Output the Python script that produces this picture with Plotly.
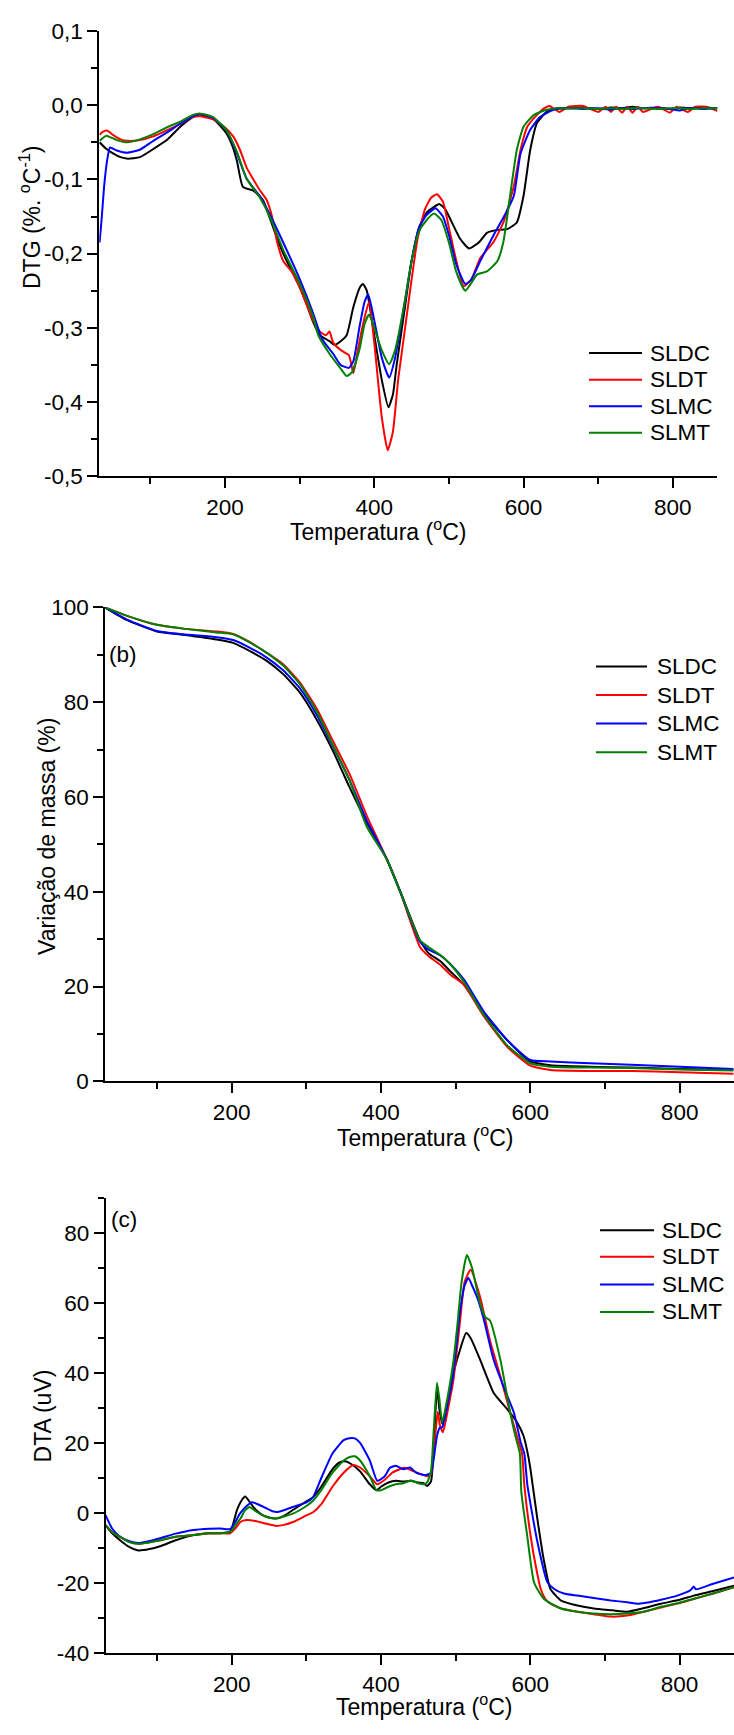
import plotly.graph_objects as go

W, H = 734, 1735
FONT = "Liberation Sans, Arial, sans-serif"

names = ["SLDC", "SLDT", "SLMC", "SLMT"]
colors = ["#000000", "#ff0000", "#0000ff", "#008000"]

# ---------------- Panel (a) DTG ----------------
plateau_T = [660, 680, 700, 717, 732, 746, 760, 780, 796, 810, 820, 840, 860]
dtg_T_sldc = [32, 40, 50, 60, 70, 86, 104, 122, 140, 157, 166, 184, 202, 210, 216, 224, 238, 251, 260, 270,
              278, 290, 300, 310, 318, 327, 340, 347, 355, 363, 372, 381, 385, 390, 400, 410, 419, 425, 430,
              440, 450, 460, 470, 480, 487, 495, 505, 515, 527, 540, 551, 565, 578, 591, 600, 609, 618, 631,
              645] + plateau_T
dtg_sldc = [-0.050, -0.058, -0.065, -0.070, -0.072, -0.070, -0.059, -0.047, -0.029, -0.016, -0.013, -0.018,
            -0.038, -0.055, -0.075, -0.110, -0.115, -0.128, -0.152, -0.180, -0.200, -0.225, -0.245, -0.270,
            -0.292, -0.310, -0.318, -0.323, -0.318, -0.310, -0.272, -0.245, -0.241, -0.250, -0.310, -0.370,
            -0.407, -0.390, -0.350, -0.280, -0.210, -0.165, -0.145, -0.137, -0.133, -0.140, -0.160, -0.180,
            -0.193, -0.185, -0.172, -0.168, -0.167, -0.158, -0.122, -0.060, -0.024, -0.009, -0.004,
            -0.004, -0.003, -0.005, -0.003, -0.004, -0.002, -0.004, -0.003, -0.005, -0.003, -0.004, -0.003, -0.004]

dtg_T_sldt = [32, 36, 42, 50, 60, 69, 86, 104, 122, 140, 157, 166, 184, 200, 211, 220, 229, 238, 247, 256,
              263, 270, 278, 290, 300, 310, 318, 327, 335, 340, 345, 355, 366, 372, 378, 385, 393, 400, 410,
              418, 425, 432, 440, 448, 458, 468, 476, 484, 492, 500, 510, 520, 530, 542, 551, 560, 573, 587,
              596, 605, 618, 628, 635, 648, 660, 680, 700, 710, 717, 724, 732, 739, 746, 753, 760, 780, 796,
              805, 820, 830, 845, 860]
dtg_sldt = [-0.040, -0.036, -0.034, -0.040, -0.046, -0.048, -0.047, -0.042, -0.034, -0.025, -0.016, -0.015,
            -0.019, -0.030, -0.042, -0.060, -0.084, -0.100, -0.115, -0.128, -0.150, -0.185, -0.210, -0.225,
            -0.245, -0.270, -0.290, -0.305, -0.310, -0.305, -0.320, -0.330, -0.337, -0.361, -0.330, -0.295,
            -0.265, -0.320, -0.420, -0.465, -0.440, -0.370, -0.310, -0.250, -0.180, -0.140, -0.125, -0.120,
            -0.130, -0.165, -0.210, -0.244, -0.235, -0.206, -0.195, -0.184, -0.158, -0.109, -0.060, -0.029,
            -0.013, -0.004, -0.001, -0.009, -0.002, -0.001, -0.009, -0.002, -0.009, -0.002, -0.010, -0.002,
            -0.010, -0.002, -0.009, -0.002, -0.010, -0.002, -0.009, -0.002, -0.002, -0.008]

dtg_T_slmc = [32, 35, 38, 42, 46, 55, 69, 86, 104, 122, 140, 157, 166, 184, 202, 216, 229, 247, 260, 278,
              300, 318, 330, 345, 355, 366, 372, 380, 387, 392, 400, 410, 420, 428, 440, 450, 460, 470, 482,
              492, 500, 510, 522, 530, 542, 560, 576, 587, 596, 609, 622, 640] + plateau_T
dtg_slmc = [-0.185, -0.150, -0.110, -0.075, -0.057, -0.061, -0.064, -0.060, -0.048, -0.037, -0.025, -0.015,
            -0.012, -0.017, -0.034, -0.065, -0.099, -0.123, -0.147, -0.185, -0.234, -0.280, -0.315, -0.335,
            -0.350, -0.354, -0.345, -0.300, -0.265, -0.255, -0.290, -0.340, -0.367, -0.340, -0.270, -0.210,
            -0.165, -0.148, -0.139, -0.150, -0.175, -0.215, -0.241, -0.235, -0.210, -0.175, -0.146, -0.122,
            -0.065, -0.033, -0.016, -0.006,
            -0.004, -0.005, -0.004, -0.006, -0.004, -0.005, -0.004, -0.004, -0.005, -0.007, -0.004, -0.005, -0.004]

dtg_T_slmt = [32, 41, 55, 69, 86, 104, 122, 140, 157, 166, 184, 202, 216, 229, 247, 260, 278, 300, 318, 325,
              340, 355, 363, 370, 380, 387, 393, 400, 410, 420, 428, 440, 450, 460, 470, 480, 490, 500, 510,
              522, 538, 551, 565, 573, 582, 591, 600, 614, 631, 645] + plateau_T
dtg_slmt = [-0.048, -0.041, -0.047, -0.050, -0.046, -0.039, -0.030, -0.022, -0.013, -0.011, -0.016, -0.034,
            -0.063, -0.099, -0.125, -0.150, -0.195, -0.240, -0.285, -0.310, -0.335, -0.355, -0.365, -0.360,
            -0.330, -0.295, -0.282, -0.300, -0.330, -0.349, -0.330, -0.270, -0.210, -0.170, -0.155, -0.146,
            -0.155, -0.185, -0.225, -0.250, -0.228, -0.224, -0.210, -0.184, -0.122, -0.060, -0.029, -0.013,
            -0.006, -0.004,
            -0.004, -0.004, -0.005, -0.004, -0.005, -0.004, -0.004, -0.005, -0.004, -0.004, -0.005, -0.004, -0.004]

# ---------------- Panel (b) TG ----------------
tg_T = [30, 60, 100, 135, 180, 202, 224, 247, 269, 291, 314, 336, 358, 381, 408, 426, 452, 464, 480, 493,
        511, 537, 569, 600, 627, 680, 735, 800, 872]
tg_sldc = [100, 97.3, 94.9, 94.2, 93.2, 92.5, 90.8, 88.7, 85.9, 82.1, 76.3, 69.6, 62.0, 54.6, 46.8, 40.0,
           29.8, 27.0, 25.3, 23.2, 20.4, 14.5, 8.7, 4.2, 3.4, 3.1, 2.9, 2.6, 2.4]
tg_sldt = [100, 98.2, 96.3, 95.5, 94.9, 94.4, 92.7, 90.4, 88.0, 84.2, 78.6, 71.7, 64.8, 56.0, 46.8, 39.9,
           28.4, 26.4, 24.5, 22.5, 20.4, 13.9, 7.3, 3.3, 2.4, 2.2, 2.2, 1.9, 1.6]
tg_slmc = [100, 97.4, 95.0, 94.3, 93.7, 93.1, 91.5, 89.4, 86.7, 83.0, 77.3, 70.6, 63.5, 55.0, 46.8, 39.9,
           29.5, 27.8, 26.5, 24.7, 21.5, 14.9, 8.7, 4.5, 4.2, 3.8, 3.5, 3.1, 2.6]
tg_slmt = [100, 98.2, 96.3, 95.5, 94.7, 94.3, 92.6, 90.4, 87.7, 83.9, 78.0, 70.8, 63.5, 53.7, 46.8, 39.9,
           29.8, 28.3, 26.6, 24.7, 21.0, 14.2, 7.6, 3.8, 3.1, 2.9, 2.8, 2.5, 2.3]

# ---------------- Panel (c) DTA ----------------
dta_T_sldc = [31, 40, 50, 62, 75, 90, 104, 125, 149, 170, 184, 198, 207, 213, 218, 224, 229, 236, 242, 250,
              260, 270, 283, 300, 309, 320, 335, 345, 352, 360, 372, 385, 394, 400, 410, 420, 430, 440, 450,
              457, 462, 467, 471, 475, 478, 482, 488, 497, 505, 514, 520, 533, 551, 569, 582, 591, 596, 600,
              609, 618, 627, 641, 660, 685, 710, 730, 750, 775, 800, 819, 845, 873]
dta_sldc = [-3.5, -5.8, -7.7, -9.6, -10.7, -10.3, -9.5, -7.8, -6.3, -5.8, -5.8, -5.3, 0.8, 3.5, 4.7, 3.2,
            1.7, 0.2, -0.7, -1.3, -1.6, -0.8, 1.0, 3.3, 4.5, 7.5, 12.5, 14.5, 14.8, 14.0, 11.9, 8.2, 6.5, 7.5,
            8.7, 9.2, 9.0, 9.2, 8.7, 8.5, 7.7, 9.0, 20.0, 36.0, 30.0, 25.5, 30.0, 40.0, 46.0, 51.4, 50.0, 43.7,
            34.3, 29.7, 26.0, 22.0, 17.6, 12.9, -1.0, -13.3, -21.7, -25.0, -26.3, -27.3, -27.8, -28.2, -27.3,
            -25.9, -24.8, -23.6, -22.3, -20.8]

dta_T_sldt = [31, 40, 50, 62, 75, 90, 104, 125, 149, 170, 184, 198, 205, 212, 220, 230, 245, 260, 270, 283,
              300, 309, 320, 335, 350, 363, 372, 385, 395, 405, 415, 425, 431, 440, 453, 462, 467, 471, 476,
              479, 483, 490, 497, 506, 512, 520, 533, 546, 560, 573, 582, 589, 592, 600, 609, 614, 620, 627,
              645, 663, 685, 708, 730, 752, 775, 797, 820, 845, 873]
dta_sldt = [-3.5, -5.5, -6.8, -8.2, -8.8, -8.3, -7.8, -6.8, -6.3, -5.8, -5.8, -5.8, -4.4, -2.5, -2.0, -2.2,
            -3.0, -3.7, -3.4, -2.5, -0.7, 0.2, 2.5, 7.5, 11.5, 13.7, 13.0, 10.5, 8.2, 9.5, 11.5, 12.5, 12.9,
            12.3, 11.1, 10.5, 11.0, 18.0, 28.9, 25.0, 23.1, 30.0, 38.0, 55.0, 66.0, 69.5, 61.5, 49.3, 39.0,
            28.7, 22.0, 17.0, 8.0, -6.0, -17.0, -21.7, -24.5, -25.9, -27.5, -28.2, -28.9, -29.6, -29.3, -28.2,
            -27.0, -25.9, -24.5, -23.0, -21.2]

dta_T_slmc = [31, 40, 50, 62, 75, 90, 104, 125, 149, 170, 184, 198, 205, 211, 220, 227, 235, 245, 256, 262,
              270, 282, 300, 309, 320, 335, 350, 360, 365, 372, 385, 395, 405, 412, 420, 430, 439, 447, 453,
              460, 467, 471, 475, 479, 482, 490, 497, 506, 512, 517, 522, 529, 537, 551, 564, 578, 587, 592,
              596, 609, 623, 632, 645, 663, 685, 708, 730, 745, 760, 775, 797, 815, 819, 822, 845, 873]
dta_slmc = [-0.6, -4.5, -6.7, -8.0, -8.6, -8.0, -7.2, -5.9, -4.85, -4.5, -4.4, -4.6, -2.5, -0.2, 2.0, 3.1,
            2.5, 1.5, 0.4, 0.3, 0.8, 1.7, 3.0, 4.5, 10.0, 17.0, 20.8, 21.4, 21.3, 20.0, 15.0, 9.2, 10.5, 12.9,
            13.5, 12.5, 13.0, 11.5, 11.1, 10.8, 11.5, 16.0, 22.0, 24.4, 24.5, 32.0, 40.0, 57.8, 65.0, 67.2,
            65.0, 61.5, 55.9, 43.7, 36.2, 28.7, 20.3, 17.0, 8.2, -7.7, -19.8, -21.7, -23.0, -23.6, -24.3, -25.0,
            -25.5, -25.9, -25.5, -24.8, -23.6, -22.0, -21.0, -21.8, -20.2, -18.4]

dta_T_slmt = [31, 40, 50, 62, 75, 90, 104, 125, 149, 170, 184, 198, 205, 212, 218, 224, 232, 245, 256, 270,
              282, 300, 309, 320, 335, 350, 358, 365, 372, 385, 394, 400, 410, 420, 430, 440, 450, 457, 462,
              467, 471, 475, 478, 482, 490, 497, 502, 508, 515, 522, 533, 540, 546, 560, 573, 580, 586, 588,
              596, 605, 618, 641, 663, 685, 708, 730, 752, 775, 797, 819, 845, 873]
dta_slmt = [-3.5, -5.5, -6.7, -8.2, -8.8, -8.4, -7.8, -6.8, -6.3, -5.8, -5.8, -5.5, -3.5, -1.5, 0.8, 1.7,
            0.5, -1.0, -1.6, -1.0, -0.2, 2.0, 3.5, 6.5, 11.5, 15.0, 16.0, 16.2, 15.0, 10.5, 6.5, 6.5, 7.5, 8.2,
            8.5, 9.3, 8.5, 8.2, 8.8, 12.0, 25.0, 37.2, 33.0, 25.9, 34.0, 43.3, 53.0, 66.0, 73.7, 70.0, 59.6,
            55.9, 55.0, 43.7, 28.7, 22.0, 17.0, 6.0, -6.7, -19.8, -24.5, -27.3, -28.2, -28.7, -28.9, -28.7,
            -28.2, -26.8, -25.8, -24.5, -23.0, -21.2]

# tick labels
x_tickvals = [200, 400, 600, 800]
x_ticktext = ["200", "400", "600", "800"]
dtg_tickvals = [-0.5, -0.4, -0.3, -0.2, -0.1, 0.0, 0.1]
dtg_ticktext = ["-0,5", "-0,4", "-0,3", "-0,2", "-0,1", "0,0", "0,1"]
tg_tickvals = [0, 20, 40, 60, 80, 100]
tg_ticktext = ["0", "20", "40", "60", "80", "100"]
dta_tickvals = [-40, -20, 0, 20, 40, 60, 80]
dta_ticktext = ["-40", "-20", "0", "20", "40", "60", "80"]

panels = [
    ([dtg_T_sldc, dtg_T_sldt, dtg_T_slmc, dtg_T_slmt], [dtg_sldc, dtg_sldt, dtg_slmc, dtg_slmt], "x", "y"),
    ([tg_T] * 4, [tg_sldc, tg_sldt, tg_slmc, tg_slmt], "x2", "y2"),
    ([dta_T_sldc, dta_T_sldt, dta_T_slmc, dta_T_slmt], [dta_sldc, dta_sldt, dta_slmc, dta_slmt], "x3", "y3"),
]


def px(x):
    return x / W


def py(y):
    return 1 - y / H


fig = go.Figure()
for Ts, Vs, xa, ya in panels:
    for T, V, n, c in zip(Ts, Vs, names, colors):
        fig.add_trace(go.Scatter(x=T, y=V, name=n, mode="lines", xaxis=xa, yaxis=ya,
                                 line=dict(color=c, width=2, shape="spline", smoothing=0.5),
                                 showlegend=False))

tickfont = dict(family=FONT, size=22.5, color="black")


def axis(domain, rng, tickvals, ticktext, minor_dtick, anchor, tick0=0):
    return dict(domain=domain, range=rng, anchor=anchor, showline=True, linecolor="black", linewidth=2,
                ticks="outside", ticklen=10, tickwidth=2, tickcolor="black", showgrid=False,
                zeroline=False, tickvals=tickvals, ticktext=ticktext, tickfont=tickfont,
                minor=dict(ticks="outside", ticklen=6, tickwidth=2, tickcolor="black",
                           dtick=minor_dtick, tick0=tick0, showgrid=False))


layout = dict(
    width=W, height=H, margin=dict(l=0, r=0, t=0, b=0),
    paper_bgcolor="white", plot_bgcolor="white", showlegend=False,
    xaxis=axis([px(99.3), px(717.3)], [31.6, 859.6], x_tickvals, x_ticktext, 100, "y"),
    yaxis=axis([py(471), py(19.3)], [-0.5, 0.1], dtg_tickvals, dtg_ticktext, 0.05, "x"),
    xaxis2=axis([px(105.3), 1.0], [30.8, 872.8], x_tickvals, x_ticktext, 100, "y2"),
    yaxis2=axis([py(1085), py(604)], [0, 100], tg_tickvals, tg_ticktext, 10, "x2"),
    xaxis3=axis([px(105.7), 1.0], [31.2, 872.9], x_tickvals, x_ticktext, 100, "y3"),
    yaxis3=axis([py(1665), py(1203.3)], [-40, 90], dta_tickvals, dta_ticktext, 10, "x3"),
)
fig.update_layout(**layout)

tf = dict(family=FONT, size=23, color="black")
lf = dict(family=FONT, size=22.5, color="black")
ann = []
# axis titles
for cx, cy in [(378, 526), (424.5, 1140), (423.5, 1718)]:
    ann.append(dict(text="Temperatura (<sup>o</sup>C)", x=px(cx), y=py(cy), xref="paper", yref="paper",
                    xanchor="center", yanchor="middle", showarrow=False, font=tf))
for t, cx, cy in [("DTG (%. <sup>o</sup>C<sup>-1</sup>)", 30, 209), ("Variação de massa (%)", 47, 837),
                  ("DTA (uV)", 43, 1425)]:
    ann.append(dict(text=t, x=px(cx), y=py(cy), xref="paper", yref="paper", textangle=-90,
                    xanchor="center", yanchor="middle", showarrow=False, font=tf))
for t, cx, cy in [("(b)", 123, 652), ("(c)", 124, 1225)]:
    ann.append(dict(text=t, x=px(cx), y=py(cy), xref="paper", yref="paper",
                    xanchor="center", yanchor="middle", showarrow=False, font=lf))

# legends (drawn per panel)
shapes = []
legend_specs = [
    (589, 642, 648, [346, 373, 400, 427]),
    (596, 647, 655, [664, 693, 722, 751]),
    (600, 654, 660, [1236, 1263, 1291, 1319]),
]
for x0, x1, xt, ys in legend_specs:
    for n, c, yy in zip(names, colors, ys):
        shapes.append(dict(type="line", xref="paper", yref="paper", x0=px(x0), x1=px(x1),
                           y0=py(yy), y1=py(yy), line=dict(color=c, width=2)))
        ann.append(dict(text=n, x=px(xt), y=py(yy), xref="paper", yref="paper", xanchor="left",
                        yanchor="middle", showarrow=False, font=lf))

fig.update_layout(annotations=ann, shapes=shapes)
fig.write_html("out.html")
